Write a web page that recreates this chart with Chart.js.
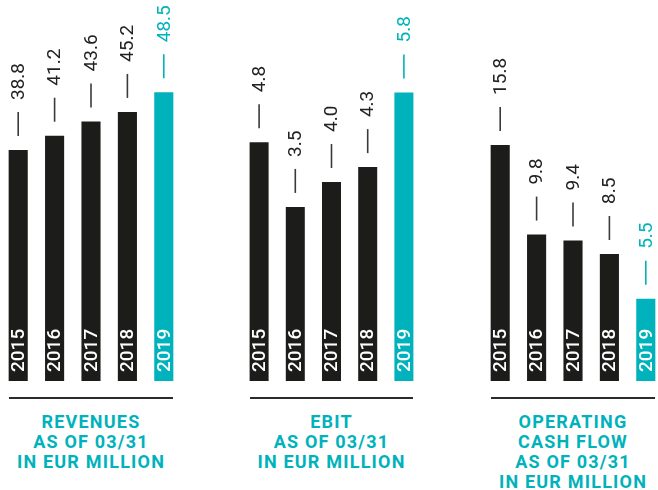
<!DOCTYPE html>
<html lang="en">
<head>
  <meta charset="UTF-8">
  <title>Revenues, EBIT, Operating Cash Flow</title>
  <script src="https://cdn.jsdelivr.net/npm/chart.js"></script>
  <style>
    body {
      margin: 0;
      width: 658px;
      height: 490px;
      background: #fff;
      position: relative;
      overflow: hidden;
      font-family: 'Roboto', sans-serif;
    }

    .panel {
      position: absolute;
      top: 0;
    }

    .rule {
      position: absolute;
      top: 397px;
      height: 0;
      border-top: 2px solid #2b2b2b;
    }

    .title {
      position: absolute;
      top: 412px;
      text-align: center;
      color: #00b2bb;
      font-weight: 700;
      font-size: 18px;
      line-height: 20px;
      letter-spacing: 1.2px;
    }
  </style>
</head>
<body>

<div class="panel" style="left:0px;"><canvas id="revChart" width="182" height="381"></canvas></div>
<div class="panel" style="left:241px;"><canvas id="ebitChart" width="181" height="381"></canvas></div>
<div class="panel" style="left:482px;"><canvas id="cashChart" width="182" height="381"></canvas></div>

<div class="rule" style="left:9px; width:164px;"></div>
<div class="rule" style="left:250px; width:163px;"></div>
<div class="rule" style="left:491px; width:164px;"></div>

<div class="title" style="left:0px; width:182px;">REVENUES<br>AS OF 03/31<br>IN EUR MILLION</div>
<div class="title" style="left:241px; width:181px;">EBIT<br>AS OF 03/31<br>IN EUR MILLION</div>
<div class="title" style="left:482px; width:182px;">OPERATING<br>CASH FLOW<br>AS OF 03/31<br>IN EUR MILLION</div>

<script>
  const years = ['2015', '2016', '2017', '2018', '2019'];
  const revenues = [38.8, 41.2, 43.6, 45.2, 48.5];
  const ebit = [4.8, 3.5, 4.0, 4.3, 5.8];
  const cashFlow = [15.8, 9.8, 9.4, 8.5, 5.5];

  const DARK = '#1c1c1a';
  const CYAN = '#00b2bb';

  function colorFor(i) {
    return i === years.length - 1 ? CYAN : DARK;
  }

  // value above each bar (with a short tick) and the year inside it, both rotated
  const barLabels = {
    id: 'barLabels',
    afterDatasetsDraw(chart) {
      const ctx = chart.ctx;
      const meta = chart.getDatasetMeta(0);
      const values = chart.data.datasets[0].data;
      meta.data.forEach((bar, i) => {
        const hl = i === years.length - 1;
        ctx.save();
        // tick
        ctx.strokeStyle = hl ? CYAN : '#3a3a3a';
        ctx.lineWidth = 1.6;
        ctx.beginPath();
        ctx.moveTo(bar.x, bar.y - 14);
        ctx.lineTo(bar.x, bar.y - 38);
        ctx.stroke();
        // value
        ctx.translate(bar.x, bar.y - 50);
        ctx.rotate(-Math.PI / 2);
        ctx.fillStyle = hl ? CYAN : '#222';
        ctx.font = '400 19px Roboto';
        ctx.textAlign = 'left';
        ctx.textBaseline = 'middle';
        ctx.fillText(values[i].toFixed(1), 0, 1);
        ctx.restore();

        ctx.save();
        ctx.translate(bar.x, bar.base - 9);
        ctx.rotate(-Math.PI / 2);
        ctx.fillStyle = '#fff';
        ctx.font = '500 19px Roboto';
        ctx.textAlign = 'left';
        ctx.textBaseline = 'middle';
        ctx.fillText(years[i], 0, 1);
        ctx.restore();
      });
    }
  };

  function makeChart(id, values, yMax) {
    const ctx = document.getElementById(id).getContext('2d');
    return new Chart(ctx, {
      type: 'bar',
      data: {
        labels: years,
        datasets: [{
          data: values,
          backgroundColor: years.map((y, i) => colorFor(i)),
          borderWidth: 0,
          barPercentage: 0.525,
          categoryPercentage: 1.0,
        }],
      },
      options: {
        responsive: false,
        animation: false,
        layout: { padding: 0 },
        scales: {
          x: { display: false },
          y: { display: false, min: 0, max: yMax },
        },
        plugins: {
          legend: { display: false },
          tooltip: { enabled: false },
        },
      },
      plugins: [barLabels],
    });
  }

  makeChart('revChart', revenues, 64.0);
  makeChart('ebitChart', ebit, 7.66);
  makeChart('cashChart', cashFlow, 25.5);
</script>

</body>
</html>
